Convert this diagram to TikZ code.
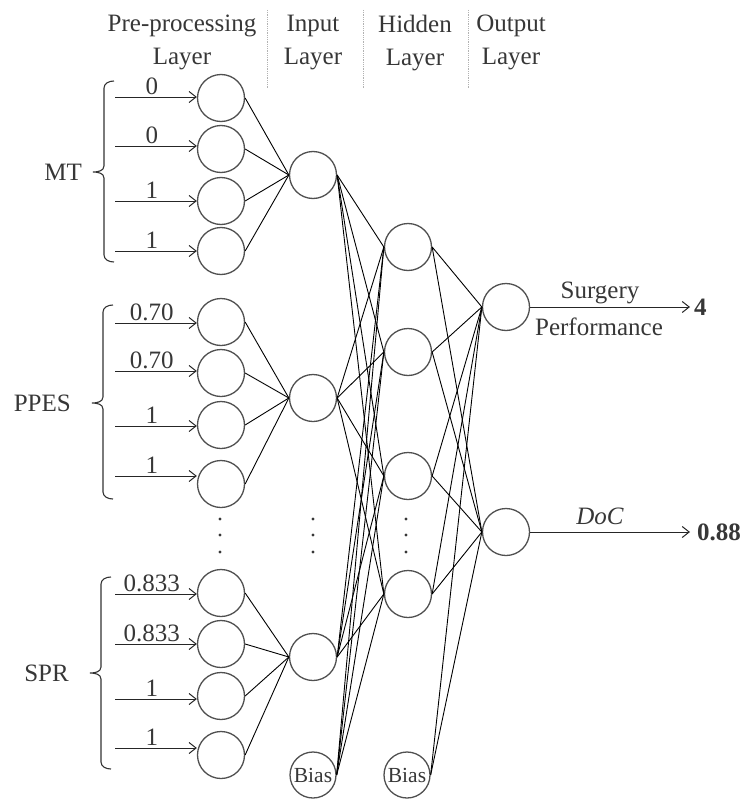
\documentclass[tikz,border=0pt]{standalone}
\usepackage{fontspec}
\setmainfont{Liberation Serif}
\usetikzlibrary{arrows.meta}
\definecolor{circ}{RGB}{80,80,80}
\definecolor{txt}{RGB}{55,55,55}
\begin{document}
\begin{tikzpicture}[x=1pt,y=-1pt,
  neuron/.style={circle, draw=circ, line width=1.3pt, minimum size=47pt, inner sep=0pt},
  biasnode/.style={neuron, minimum size=46pt, text=txt, font=\fontsize{21.5}{24}\selectfont},
  link/.style={line width=0.9pt, draw=black},
  inarrow/.style={line width=1pt, draw=black!85, -{Straight Barb[length=7pt,width=11pt]}},
  lbl/.style={font=\fontsize{25}{33}\selectfont, text=txt, inner sep=0pt},
  sepline/.style={densely dotted, draw=gray!60, line width=0.8pt},
  bracestyle/.style={line width=1.1pt, draw=black!80}]
\useasboundingbox (0,0) rectangle (743,800);

% header
\node[lbl, align=center, anchor=north] (hpre) at (182,15) {Pre-processing\\Layer};
\node[lbl, align=center, anchor=north] (hin) at (313,15) {Input\\Layer};
\node[lbl, align=center, anchor=north] (hhid) at (415,15) {Hidden\\Layer};
\node[lbl, align=center, anchor=north] (hout) at (511,15) {Output\\Layer};
\draw[sepline] (267,10) -- (267,88);
\draw[sepline] (363,10) -- (363,88);
\draw[sepline] (468,10) -- (468,88);

% input layer
\node[neuron] (i1) at (313,175) {};
\node[neuron] (i2) at (313,398) {};
\node[neuron] (i3) at (313,657) {};
\node[biasnode] (ib) at (313,775) {Bias};
% hidden layer
\node[neuron] (h1) at (408,247) {};
\node[neuron] (h2) at (408,352) {};
\node[neuron] (h3) at (408,476) {};
\node[neuron] (h4) at (408,594) {};
\node[biasnode] (hb) at (407,775) {Bias};
% output layer
\node[neuron] (o1) at (506,307) {};
\node[neuron] (o2) at (506,532) {};

% pre-processing layer with input arrows
\foreach \n/\y/\ay/\lab/\g in {1/98/97/0/1,2/149/146/0/1,3/201/201/1/1,4/251/251/1/1,
  5/322/323/0.70/2,6/373/371/0.70/2,7/425/426/1/2,8/484/476/1/2,
  9/593/594/0.833/3,10/644/644/0.833/3,11/696/699/1/3,12/755/748/1/3}{
  \node[neuron] (p\n) at (221,\y) {};
  \coordinate (s\n) at (115,\ay);
  \draw[inarrow] (s\n) -- (s\n -| p\n.west) node[lbl, pos=0.45, above=2pt] {\lab};
  \draw[link] (p\n.east) -- (i\g.west);
}

% braces and group labels
\foreach \x/\tp/\m/\b in {104/81/172/262, 103/305/403/499, 101/577/673/769}{
  \draw[bracestyle] (\x+10,\tp) to[out=180,in=90] (\x,\tp+7) -- (\x,\m-6)
    to[out=-90,in=0] (\x-11,\m) to[out=0,in=90] (\x,\m+6) -- (\x,\b-7)
    to[out=-90,in=180] (\x+10,\b);
}
\node[lbl, anchor=east] (mt) at (82,172) {MT};
\node[lbl, anchor=east] (ppes) at (71,403) {PPES};
\node[lbl, anchor=east] (spr) at (69,673) {SPR};

% input -> hidden
\foreach \a in {i1,i2,i3,ib}{
  \foreach \b in {h1,h2,h3,h4}{
    \draw[link] (\a.east) -- (\b.west);
  }
}
% hidden -> output
\foreach \a in {h1,h2,h3,h4,hb}{
  \foreach \b in {o1,o2}{
    \draw[link] (\a.east) -- (\b.west);
  }
}

% ellipsis dots
\foreach \x in {220,313,406}{
  \foreach \y in {519,535,552}{
    \fill[txt] (\x,\y) circle (1.6pt);
  }
}

% outputs
\coordinate (e1) at (690,307);
\coordinate (e2) at (690,532);
\draw[inarrow] (o1) -- (e1);
\draw[inarrow] (o2) -- (e2);
\node[lbl, anchor=base] (surg) at (600,298) {Surgery};
\node[lbl, anchor=base] (perf) at (599,335) {Performance};
\node[lbl, anchor=base] (doc) at (600,524) {\textit{DoC}};
\node[lbl, anchor=west] (r1) at (694,307) {\textbf{4}};
\node[lbl, anchor=west] (r2) at (697,532) {\textbf{0.88}};
\end{tikzpicture}
\end{document}
